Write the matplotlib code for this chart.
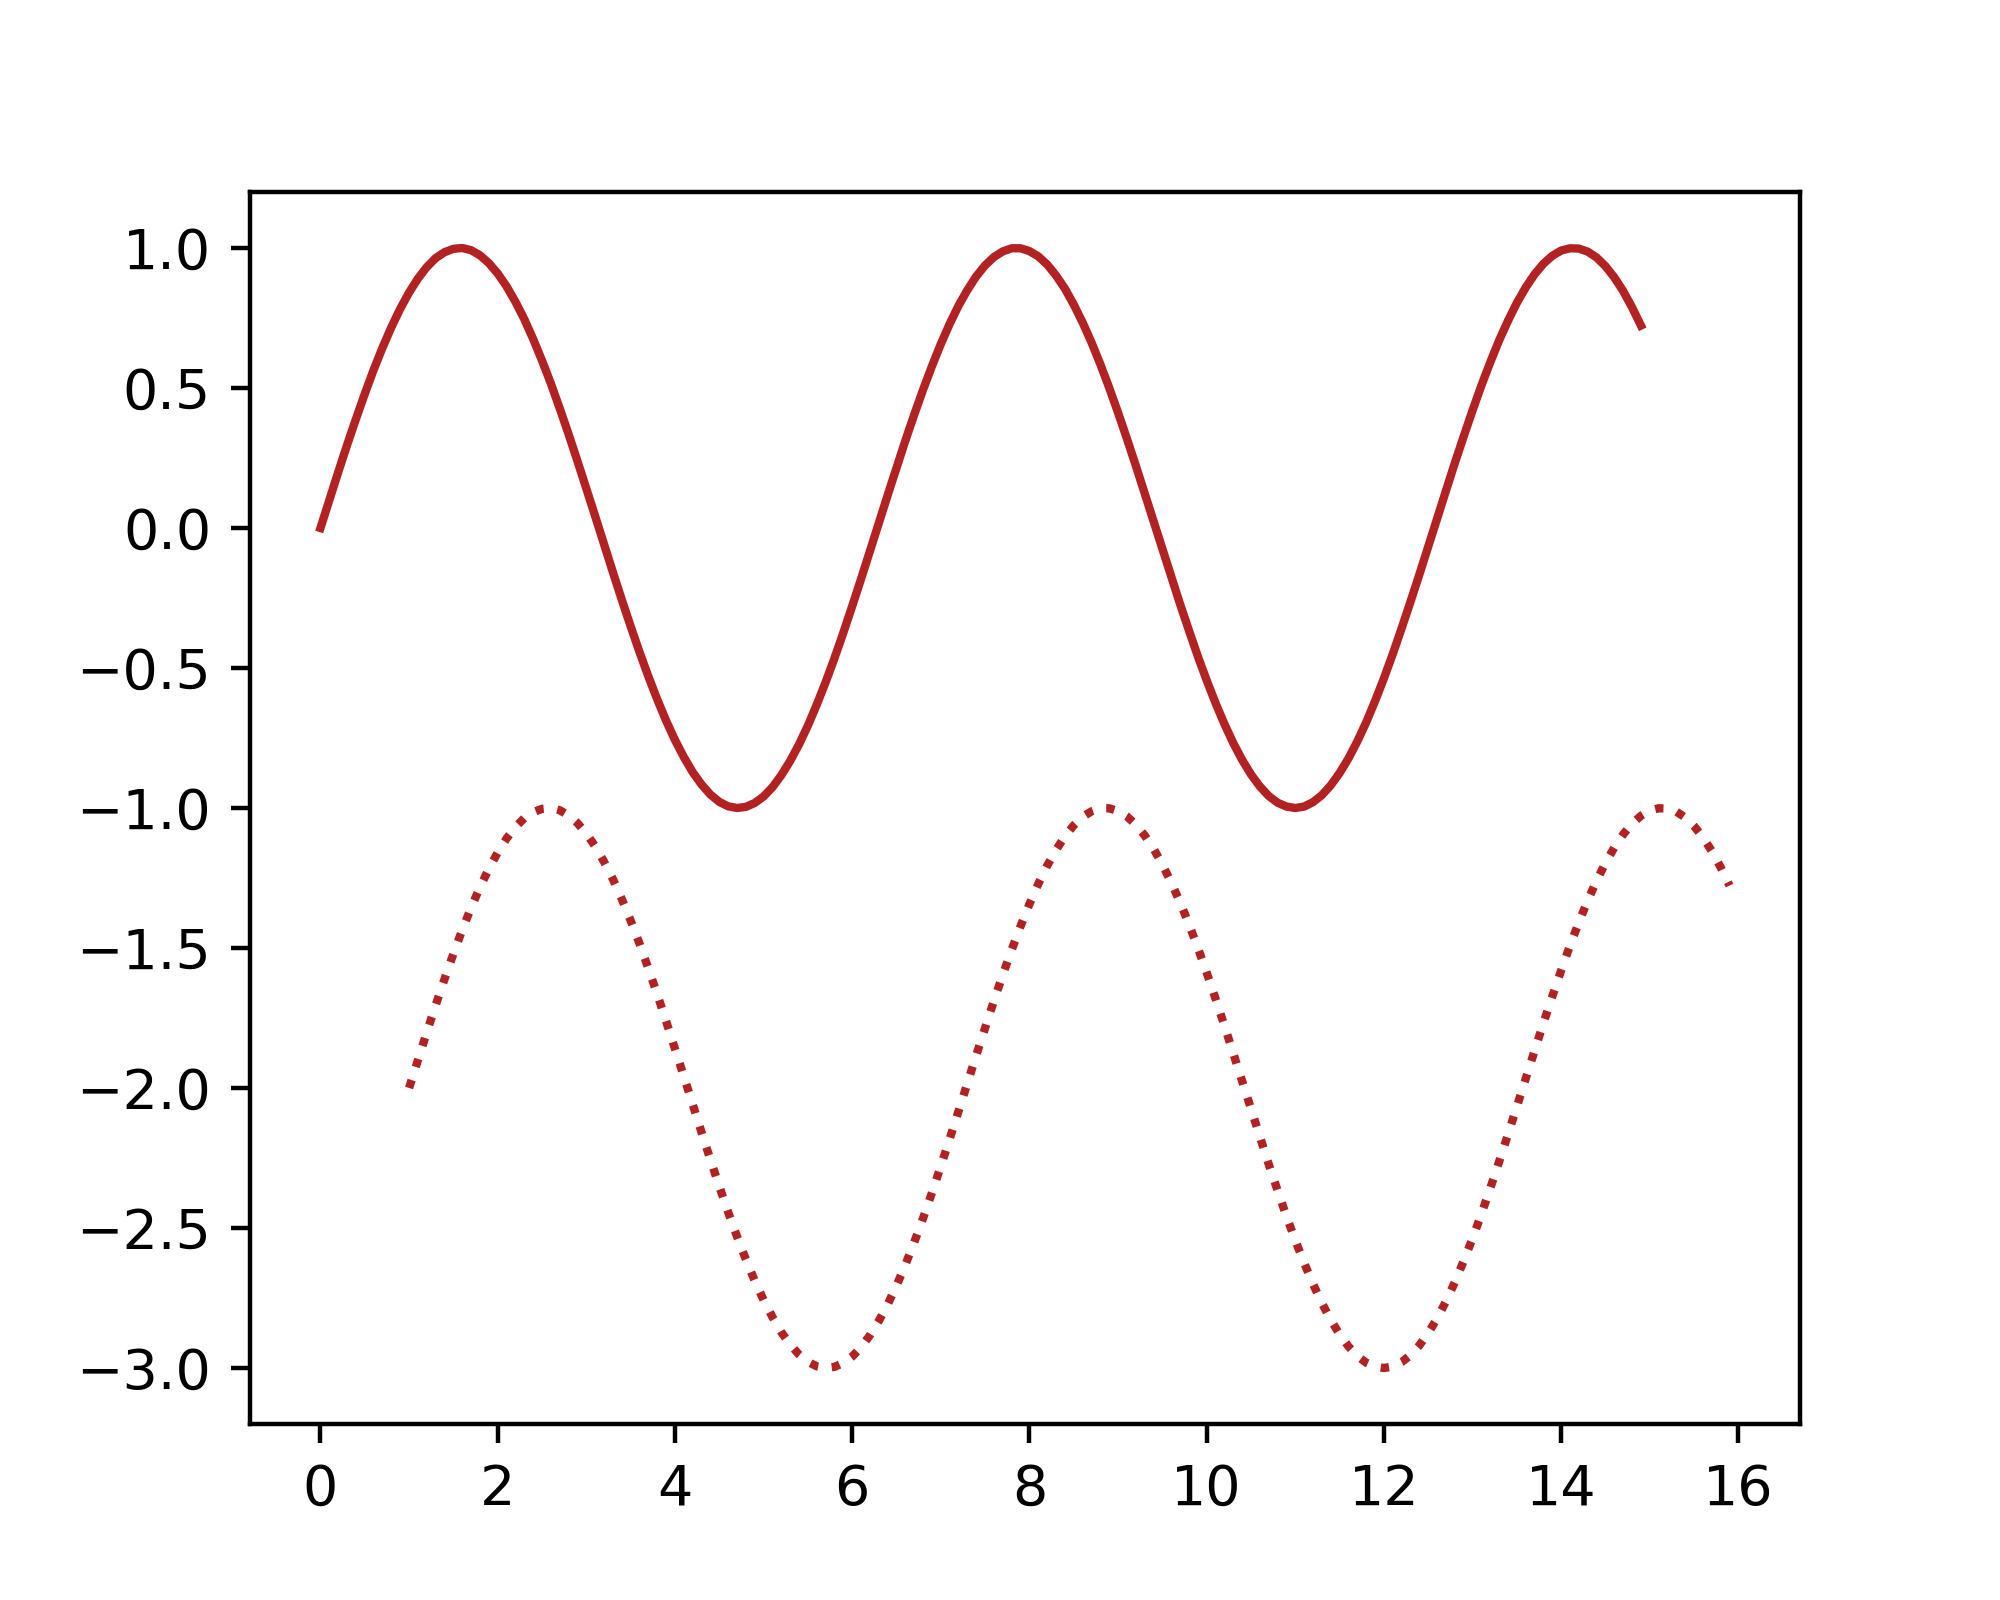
import numpy as np
import matplotlib
matplotlib.use("Agg")
import matplotlib.pyplot as plt

# x grid: every 0.1 from 0 to 14.9 (solid) and 1.0 to 15.9 (dotted)
x_solid = np.linspace(0.0, 14.9, 150)
x_dotted = np.linspace(1.0, 15.9, 150)

# values
y_solid = [0.000, 0.100, 0.199, 0.296, 0.389, 0.479, 0.565, 0.644, 0.717, 0.783,
           0.841, 0.891, 0.932, 0.964, 0.985, 0.997, 1.000, 0.992, 0.974, 0.946,
           0.909, 0.863, 0.808, 0.746, 0.675, 0.598, 0.516, 0.427, 0.335, 0.239,
           0.141, 0.042, -0.058, -0.158, -0.256, -0.351, -0.443, -0.530, -0.612, -0.688,
           -0.757, -0.818, -0.872, -0.916, -0.952, -0.978, -0.994, -1.000, -0.996, -0.982,
           -0.959, -0.926, -0.883, -0.832, -0.773, -0.706, -0.631, -0.551, -0.465, -0.374,
           -0.279, -0.182, -0.083, 0.017, 0.117, 0.215, 0.312, 0.405, 0.494, 0.578,
           0.657, 0.729, 0.794, 0.850, 0.899, 0.938, 0.968, 0.988, 0.999, 0.999,
           0.989, 0.970, 0.941, 0.902, 0.855, 0.798, 0.734, 0.663, 0.585, 0.501,
           0.412, 0.319, 0.223, 0.124, 0.025, -0.075, -0.174, -0.272, -0.366, -0.458,
           -0.544, -0.625, -0.700, -0.768, -0.828, -0.880, -0.923, -0.957, -0.981, -0.995,
           -1.000, -0.995, -0.979, -0.954, -0.919, -0.875, -0.823, -0.762, -0.694, -0.618,
           -0.537, -0.450, -0.358, -0.263, -0.166, -0.066, 0.034, 0.133, 0.232, 0.327,
           0.420, 0.509, 0.592, 0.670, 0.740, 0.804, 0.859, 0.906, 0.944, 0.972,
           0.991, 0.999, 0.998, 0.987, 0.966, 0.935, 0.895, 0.846, 0.788, 0.723]

y_dotted = [-2.000, -1.900, -1.801, -1.704, -1.611, -1.521, -1.435, -1.356, -1.283, -1.217,
            -1.159, -1.109, -1.068, -1.036, -1.015, -1.003, -1.000, -1.008, -1.026, -1.054,
            -1.091, -1.137, -1.192, -1.254, -1.325, -1.402, -1.484, -1.573, -1.665, -1.761,
            -1.859, -1.958, -2.058, -2.158, -2.256, -2.351, -2.443, -2.530, -2.612, -2.688,
            -2.757, -2.818, -2.872, -2.916, -2.952, -2.978, -2.994, -3.000, -2.996, -2.982,
            -2.959, -2.926, -2.883, -2.832, -2.773, -2.706, -2.631, -2.551, -2.465, -2.374,
            -2.279, -2.182, -2.083, -1.983, -1.883, -1.785, -1.688, -1.595, -1.506, -1.422,
            -1.343, -1.271, -1.206, -1.150, -1.101, -1.062, -1.032, -1.012, -1.001, -1.001,
            -1.011, -1.030, -1.059, -1.098, -1.145, -1.202, -1.266, -1.337, -1.415, -1.499,
            -1.588, -1.681, -1.777, -1.876, -1.975, -2.075, -2.174, -2.272, -2.366, -2.458,
            -2.544, -2.625, -2.700, -2.768, -2.828, -2.880, -2.923, -2.957, -2.981, -2.995,
            -3.000, -2.995, -2.979, -2.954, -2.919, -2.875, -2.823, -2.762, -2.694, -2.618,
            -2.537, -2.450, -2.358, -2.263, -2.166, -2.066, -1.966, -1.867, -1.768, -1.673,
            -1.580, -1.491, -1.408, -1.330, -1.260, -1.196, -1.141, -1.094, -1.056, -1.028,
            -1.009, -1.001, -1.002, -1.013, -1.034, -1.065, -1.105, -1.154, -1.212, -1.277]

fig, ax = plt.subplots(figsize=(5, 4), dpi=400)

ax.plot(x_solid, y_solid, color='firebrick', linewidth=1.5)
ax.plot(x_dotted, y_dotted, ':', color='firebrick', linewidth=1.5)

plt.savefig('out.png', dpi=400)
plt.close()
